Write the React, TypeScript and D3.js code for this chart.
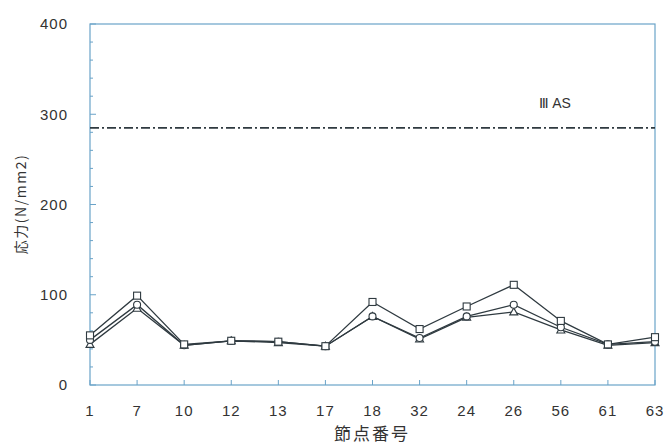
import React from "react";
import * as d3 from "d3";

const categories = ["1", "7", "10", "12", "13", "17", "18", "32", "24", "26", "56", "61", "63"];
const squareSeries = [55, 99, 45, 49, 48, 43, 92, 62, 87, 111, 71, 45, 53];
const circleSeries = [50, 89, 44, 49, 48, 43, 76, 52, 76, 89, 64, 45, 48];
const triangleSeries = [45, 85, 44, 49, 47, 43, 76, 51, 75, 81, 61, 44, 47];
const yTicks = [0, 100, 200, 300, 400];
const allowableValue = 285;
const allowableLabel = "Ⅲ AS";

const W = 665, H = 446;
const M = { left: 90, right: 10, top: 24, bottom: 61 };
const axisColor = "#6aa3c8";
const lineColor = "#2f3a40";
const textColor = "#333";

export default function App() {
  const x = d3.scalePoint<string>().domain(categories).range([M.left, W - M.right]).padding(0);
  const y = d3.scaleLinear().domain([0, 400]).range([H - M.bottom, M.top]);
  const line = d3.line<number>().x((_, i) => x(categories[i])!).y((d) => y(d));
  const minor = d3.range(0, 401, 20);
  const font = "'Liberation Sans', Arial, sans-serif";
  const cjk = "'Noto Sans CJK JP', sans-serif";
  const x0 = M.left, x1 = W - M.right, yb = y(0), yt = y(400);
  const s = 3.5;
  return (
    <svg width={W} height={H} style={{ position: "absolute", left: 0, top: 0 }}>
      <rect x={0} y={0} width={W} height={H} fill="#fff" />
      <rect x={x0} y={yt} width={x1 - x0} height={yb - yt} fill="none" stroke={axisColor} strokeWidth={1.2} />
      {minor.map((v) => (
        <line key={"m" + v} x1={x0} x2={x0 + (v % 100 === 0 ? 6 : 3)} y1={y(v)} y2={y(v)} stroke={axisColor} strokeWidth={1} />
      ))}
      {yTicks.map((v) => (
        <text key={"yt" + v} x={x0 - 22} y={y(v)} dy="0.35em" textAnchor="end" fontFamily={font} fontSize={15} letterSpacing={1} fill={textColor}>
          {v}
        </text>
      ))}
      {categories.map((c) => (
        <g key={"xt" + c}>
          <line x1={x(c)!} x2={x(c)!} y1={yb} y2={yb - 5} stroke={axisColor} strokeWidth={1} />
          <text x={x(c)!} y={yb + 31} textAnchor="middle" fontFamily={font} fontSize={15} letterSpacing={1} fill={textColor}>
            {c}
          </text>
        </g>
      ))}
      <line x1={x0} x2={x1} y1={y(allowableValue)} y2={y(allowableValue)} stroke={lineColor} strokeWidth={1.8} strokeDasharray="9,3,2,3" />
      <text x={555} y={y(allowableValue) - 20} textAnchor="middle" fontFamily={font} fontSize={14} fill={textColor}>
        {allowableLabel}
      </text>
      {[triangleSeries, circleSeries, squareSeries].map((ser, k) => (
        <path key={"l" + k} d={line(ser)!} fill="none" stroke={lineColor} strokeWidth={1.3} />
      ))}
      {triangleSeries.map((v, i) => {
        const cx = x(categories[i])!, cy = y(v);
        return <path key={"t" + i} d={`M${cx},${cy - 4}L${cx + 4},${cy + 3}L${cx - 4},${cy + 3}Z`} fill="#fff" stroke={lineColor} strokeWidth={1.1} />;
      })}
      {circleSeries.map((v, i) => (
        <circle key={"c" + i} cx={x(categories[i])!} cy={y(v)} r={3.5} fill="#fff" stroke={lineColor} strokeWidth={1.1} />
      ))}
      {squareSeries.map((v, i) => (
        <rect key={"s" + i} x={x(categories[i])! - s} y={y(v) - s} width={2 * s} height={2 * s} fill="#fff" stroke={lineColor} strokeWidth={1.1} />
      ))}
      <text transform={`translate(26,204) rotate(-90)`} textAnchor="middle" fontFamily={cjk} fontSize={14} letterSpacing={1.5} fill={textColor}>
        応力(N/mm2)
      </text>
      <text x={372} y={440} textAnchor="middle" fontFamily={cjk} fontSize={17} letterSpacing={2} fill={textColor}>
        節点番号
      </text>
    </svg>
  );
}
